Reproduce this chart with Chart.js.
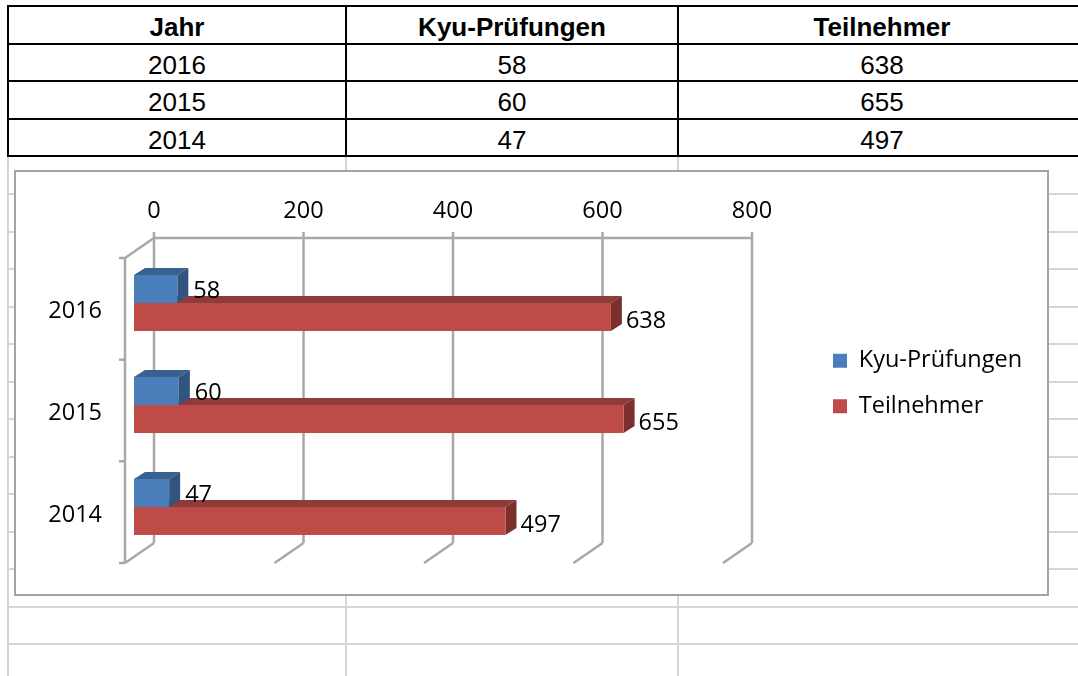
<!DOCTYPE html>
<html>
<head>
<meta charset="utf-8">
<title>Kyu-Prüfungen</title>
<script src="https://cdn.jsdelivr.net/npm/chart.js@4/dist/chart.umd.min.js"></script>
<style>
  html, body { margin: 0; padding: 0; background: #fff; overflow: hidden; }
  #page { position: relative; width: 1078px; height: 676px; overflow: hidden; }
  .gridH { position: absolute; left: 7px; right: 0; height: 2px; background: #d6d6d6; }
  .gridV { position: absolute; width: 2px; top: 156px; bottom: 0; background: #d6d6d6; }
  table {
    position: absolute; left: 7px; top: 5px; width: 1078px;
    border-collapse: collapse; table-layout: fixed; background: #fff;
    font: 26px "Liberation Sans", Arial, sans-serif; color: #000;
  }
  tr { height: 37.5px; }
  td, th { border: 2px solid #000; text-align: center; padding: 6px 0 0 0; height: 29.5px; line-height: 29px; }
  th { font-weight: bold; }
  #box {
    position: absolute; left: 14px; top: 170px; width: 1031px; height: 422px;
    border: 2px solid #a3a3a3; background: #fff;
  }
  #chart { position: absolute; left: -1px; top: -1px; }
</style>
</head>
<body>
<div id="page">
  <table id="tbl"></table>
  <div id="box"><canvas id="chart" width="1032" height="423"></canvas></div>
</div>
<script>
const years = ["2016", "2015", "2014"];
const kyuPruefungen = [58, 60, 47];
const teilnehmer = [638, 655, 497];
const headers = ["Jahr", "Kyu-Prüfungen", "Teilnehmer"];
const xTicks = [0, 200, 400, 600, 800];

const chartFont = '"Open Sans", sans-serif';
const fontSize = 23.5;

// sheet gridlines behind everything
const page = document.getElementById("page");
[193, 231, 268, 306, 343, 381, 418, 456, 493, 531, 568, 606, 643].forEach((y) => {
  const d = document.createElement("div");
  d.className = "gridH";
  d.style.top = y + "px";
  page.prepend(d);
});
[7, 345, 677].forEach((x) => {
  const d = document.createElement("div");
  d.className = "gridV";
  d.style.left = x + "px";
  page.prepend(d);
});

// table above the chart
let html = "<colgroup><col style='width:338px'><col style='width:332px'><col style='width:408px'></colgroup>";
html += "<tr>" + headers.map((h) => "<th>" + h + "</th>").join("") + "</tr>";
years.forEach((y, i) => {
  html += "<tr><td>" + y + "</td><td>" + kyuPruefungen[i] + "</td><td>" + teilnehmer[i] + "</td></tr>";
});
document.getElementById("tbl").innerHTML = html;

const WALL = "#a8a8a8";
const depthX = 11, depthY = -7; // bar extrusion
const backX = 20;               // back wall offset from bar zero line
const floorDx = 29, floorDy = 20;

function poly(ctx, pts, color) {
  ctx.fillStyle = color;
  ctx.beginPath();
  pts.forEach((p, i) => (i ? ctx.lineTo(p[0], p[1]) : ctx.moveTo(p[0], p[1])));
  ctx.closePath();
  ctx.fill();
}

function line(ctx, x1, y1, x2, y2) {
  ctx.beginPath();
  ctx.moveTo(x1, y1);
  ctx.lineTo(x2, y2);
  ctx.stroke();
}

// fake 3D walls and bar sides, Chart.js has no 3D bars
const walls3d = {
  id: "walls3d",
  afterLayout(chart) {
    const lg = chart.legend;
    lg.left = 796; lg.right = 1025;
    lg.top = 156; lg.bottom = 300;
  },
  beforeDatasetsDraw(chart) {
    const { ctx, scales: { x }, chartArea: a } = chart;
    const top = a.top - 14, bottom = a.bottom - 15;
    ctx.save();
    ctx.strokeStyle = WALL;
    ctx.lineWidth = 2.5;
    xTicks.forEach((v) => {
      const px = x.getPixelForValue(v) + backX;
      line(ctx, px, top - 6, px, bottom);
      line(ctx, px, bottom, px - floorDx, bottom + floorDy);
    });
    line(ctx, x.getPixelForValue(0) + backX, top, x.getPixelForValue(800) + backX, top);
    const fx = x.getPixelForValue(0) + backX - floorDx;
    line(ctx, fx, top + floorDy, fx + floorDx, top);
    line(ctx, fx, top + floorDy, fx, bottom + floorDy);
    for (let i = 0; i <= years.length; i++) {
      const ty = top + floorDy + (i * (bottom - top)) / years.length;
      line(ctx, fx - 6, ty, fx, ty);
    }
    ctx.restore();

    [[1, "#8e3b39", "#7b302e"], [0, "#38618f", "#30557f"]].forEach(([ds, topCol, sideCol]) => {
      chart.getDatasetMeta(ds).data.forEach((bar) => {
        const h = bar.height / 2;
        const l = bar.base, r = bar.x, t = bar.y - h, b = bar.y + h;
        poly(ctx, [[l, t], [l + depthX, t + depthY], [r + depthX, t + depthY], [r, t]], topCol);
        poly(ctx, [[r, t], [r + depthX, t + depthY], [r + depthX, b + depthY], [r, b]], sideCol);
      });
    });
  },
  afterDatasetsDraw(chart) {
    const { ctx } = chart;
    ctx.save();
    ctx.fillStyle = "#000";
    ctx.font = fontSize + "px " + chartFont;
    ctx.textBaseline = "middle";
    chart.data.datasets.forEach((ds, d) => {
      chart.getDatasetMeta(d).data.forEach((bar, i) => {
        ctx.fillText(ds.data[i], bar.x + (d ? 15 : 16), bar.y + (d ? 4 : 2));
      });
    });
    ctx.restore();
  },
};

new Chart(document.getElementById("chart"), {
  type: "bar",
  data: {
    labels: years,
    datasets: [
      { label: headers[1], data: kyuPruefungen, backgroundColor: "#4a7ebb" },
      { label: headers[2], data: teilnehmer, backgroundColor: "#be4b48" },
    ],
  },
  options: {
    indexAxis: "y",
    responsive: false,
    animation: false,
    layout: { padding: { top: 0, left: 0, right: 315, bottom: 36 } },
    datasets: { bar: { categoryPercentage: 0.55, barPercentage: 1, borderWidth: 0 } },
    scales: {
      x: {
        position: "top",
        min: 0,
        max: 800,
        afterFit: (s) => { s.height = 81; },
        afterBuildTicks: (s) => { s.ticks = xTicks.map((v) => ({ value: v })); },
        grid: { display: false, drawTicks: false },
        border: { display: false },
        ticks: { color: "#000", font: { family: chartFont, size: fontSize }, labelOffset: 20, padding: 27, maxRotation: 0 },
      },
      y: {
        afterFit: (s) => {
          s.width = 119;
          // tick padding would otherwise eat into the plot height
          s.paddingTop = 0;
          s.paddingBottom = 0;
        },
        grid: { display: false, drawTicks: false },
        border: { display: false },
        ticks: { color: "#000", font: { family: chartFont, size: fontSize }, labelOffset: 8, padding: 32, autoSkip: false },
      },
    },
    plugins: {
      tooltip: { enabled: false },
      legend: {
        position: "chartArea",
        align: "start",
        labels: {
          boxWidth: 14, boxHeight: 14, padding: 22, color: "#000",
          font: { family: chartFont, size: fontSize },
        },
      },
    },
  },
  plugins: [walls3d],
});
</script>
</body>
</html>
